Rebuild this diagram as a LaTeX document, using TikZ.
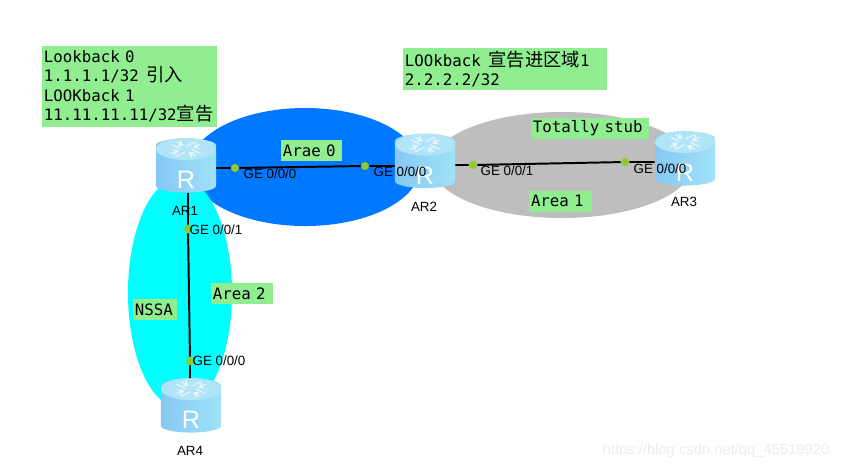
\documentclass[tikz,border=0pt]{standalone}
\usepackage{fontspec}
\usepackage{xcolor}
\usepackage{tikz}
\usetikzlibrary{calc,arrows.meta,shapes.geometric}
\setmainfont{Liberation Sans}
\setmonofont{DejaVu Sans Mono}
\newfontfamily\cjkfont{Noto Sans CJK SC}
\newcommand{\zh}[1]{{\cjkfont\fontsize{13}{13.9}\selectfont #1}}
\newcommand{\routerR}{\smash{\raisebox{-14.2pt}{R}}}
\definecolor{areaBlue}{HTML}{0078FF}
\definecolor{areaCyan}{HTML}{00FFFF}
\definecolor{areaGrey}{HTML}{BEBEBE}
\definecolor{noteGreen}{HTML}{90EE90}
\definecolor{portGreen}{HTML}{8FCB2B}
\definecolor{routerEdge}{HTML}{86C8F2}
\definecolor{routerMid}{HTML}{A2D6F6}
\definecolor{routerLight}{HTML}{A0E2F8}
\definecolor{routerTop}{HTML}{B2E4F8}
\definecolor{routerArrow}{HTML}{E4F6FD}
\definecolor{markGrey}{HTML}{EDEDED}
\tikzset{
  areablob/.style={ellipse, fill=#1, inner sep=0pt},
  notebox/.style={rectangle, fill=noteGreen, align=left, font=\ttfamily\fontsize{11.2}{13.9}\selectfont, inner xsep=0.05cm, inner ysep=0pt, minimum height=0.525cm},
  routernode/.style={cylinder, shape border rotate=90, aspect=0.73, left color=routerEdge, middle color=routerMid, right color=routerLight, minimum width=1.5cm, minimum height=1.35cm, inner sep=0pt, text=white, font=\fontsize{18}{18}\selectfont},
  portdot/.style={circle, fill=portGreen, minimum size=0.2cm, inner sep=0pt},
  linkline/.style={line width=1.4pt, draw=black},
  portlabel/.style={font=\fontsize{9.5}{11}\selectfont, inner sep=0pt},
  routertop/.pic={
    \fill[routerTop] (0,-20) ellipse (30 and 11);
    \begin{scope}[shift={(0,-20)}, yscale=0.5]
      \foreach \ang in {45,135,225,315}
        \draw[routerArrow, line width=0.9pt, -{Stealth[length=1.6mm,width=1.8mm]}, rotate=\ang] (3.5,4) -- (3.5,17) (-3.5,17) -- (-3.5,6);
    \end{scope}
  },
}

\begin{document}
\begin{tikzpicture}[x=0.025cm,y=-0.025cm]
  \useasboundingbox (0,0) rectangle (847,469);

  % ---------- areas ----------
  \node[areablob=areaGrey, minimum width=6.5cm, minimum height=2.65cm] (area1) at (562,165) {};
  \node[areablob=areaBlue, minimum width=5.75cm, minimum height=2.95cm] (area0) at (305,167) {};
  \node[areablob=areaCyan, minimum width=2.6cm, minimum height=5.75cm] (area2) at (180,293) {};

  % ---------- routers ----------
  \node[routernode] (ar1) at (186,169) {\routerR};
  \node[routernode] (ar2) at (425,164.5) {\routerR};
  \node[routernode] (ar3) at (685,162) {\routerR};
  \node[routernode] (ar4) at (191,409) {\routerR};
  \foreach \rt in {ar1,ar2,ar3,ar4}
    \pic at (\rt) {routertop};

  % ---------- ports ----------
  \node[portdot] (p1) at (235,168) {};
  \node[portdot] (p2) at (365,166) {};
  \node[portdot] (p3) at (473,165) {};
  \node[portdot] (p4) at (625,162) {};
  \node[portdot] (p5) at (188,229) {};
  \node[portdot] (p6) at (190,361) {};

  % ---------- links ----------
  \draw[linkline] (ar1.east |- p1) -- (p1) -- (p2) -- (ar2.west |- p2);
  \draw[linkline] (ar2.east |- p3) -- (p3) -- (p4) -- (ar3.west |- p4);
  \draw[linkline] (p5 |- ar1.south) -- (p5) -- (p6) -- (p6 |- ar4.north);

  % ---------- port and router labels ----------
  \node[portlabel] (l1) at (270,174) {GE 0/0/0};
  \node[portlabel] (l2) at (400,172) {GE 0/0/0};
  \node[portlabel] (l3) at (507,171) {GE 0/0/1};
  \node[portlabel] (l4) at (660,169) {GE 0/0/0};
  \node[portlabel] (l5) at (216,230) {GE 0/0/1};
  \node[portlabel] (l6) at (219,361) {GE 0/0/0};
  \node[portlabel] (n1) at (185,211) {AR1};
  \node[portlabel] (n2) at (424,207) {AR2};
  \node[portlabel] (n3) at (684,202) {AR3};
  \node[portlabel] (n4) at (190,451) {AR4};

  % ---------- notes ----------
  \node[notebox, text width=4.275cm, minimum height=2.025cm] (note1) at (129.5,86.5) {Lookback 0\\1.1.1.1/32 \,\zh{引入}\\LOOKback 1\\11.11.11.11/32\zh{宣告}};
  \node[notebox, text width=5cm, minimum height=1.05cm] (note2) at (505,69) {LOOkback \,\zh{宣告进区域}1\\2.2.2.2/32};
  \node[notebox, text width=2.85cm] (stub) at (590,128.5) {Totally stub};
  \node[notebox, text width=1.475cm] (a1) at (560.5,201) {Area 1};
  \node[notebox, text width=1.425cm] (a0) at (311.5,150.5) {Arae 0};
  \node[notebox, text width=1.0cm] (nssa) at (155,309.5) {NSSA};
  \node[notebox, text width=1.45cm] (a2) at (242,293.5) {Area 2};

  % ---------- watermark ----------
  \node[font=\fontsize{10.5}{12}\selectfont, text=markGrey, inner sep=0pt] (mark) at (716,451) {https://blog.csdn.net/qq\_45519920};
\end{tikzpicture}
\end{document}
